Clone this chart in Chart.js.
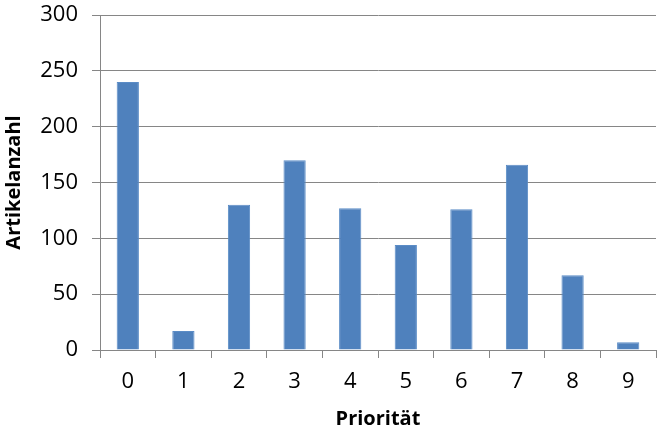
<!DOCTYPE html>
<html>
<head>
<meta charset="utf-8">
<script src="https://cdn.jsdelivr.net/npm/chart.js@4/dist/chart.umd.min.js"></script>
<style>
  html, body { margin: 0; padding: 0; background: #fff; }
  #wrap { width: 657px; height: 431px; }
</style>
</head>
<body>
<div id="wrap"><canvas id="myChart"></canvas></div>
<script>
const prioritaeten = ['0', '1', '2', '3', '4', '5', '6', '7', '8', '9'];
const artikelanzahl = [240, 17, 130, 170, 127, 94, 126, 166, 67, 7];
const yMax = 300;
const yStep = 50;

const font = 'Open Sans';
const ctx = document.getElementById('myChart');
const myChart = new Chart(ctx, {
  type: 'bar',
  data: {
    labels: prioritaeten,
    datasets: [{
      data: artikelanzahl,
      backgroundColor: '#4F81BD',
      borderColor: '#5B8CC6',
      borderWidth: 1,
      barPercentage: 0.4,
      categoryPercentage: 1
    }]
  },
  options: {
    responsive: true,
    maintainAspectRatio: false,
    animation: false,
    layout: { padding: { top: 15, right: 1, left: 0, bottom: 0 } },
    plugins: {
      legend: { display: false },
      tooltip: { enabled: false }
    },
    scales: {
      x: {
        grid: {
          drawOnChartArea: false,
          drawTicks: true,
          tickLength: 8,
          color: '#868686',
          offset: true
        },
        border: { color: '#868686' },
        ticks: {
          color: '#000',
          padding: 11,
          font: { family: font, size: 22 }
        },
        title: {
          display: true,
          text: 'Priorität',
          color: '#000',
          padding: { top: 4, bottom: 0 },
          font: { family: font, size: 20, weight: 'bold' }
        },
        afterFit: (scale) => {
          scale.height = 81;
          scale.paddingLeft = 0;
          scale.paddingRight = 0;
        }
      },
      y: {
        min: 0,
        max: yMax,
        grid: {
          color: '#868686',
          tickLength: 8
        },
        border: { color: '#868686' },
        ticks: {
          stepSize: yStep,
          color: '#000',
          padding: 14,
          font: { family: font, size: 22 }
        },
        title: {
          display: true,
          text: 'Artikelanzahl',
          color: '#000',
          padding: { top: 2, bottom: 4 },
          font: { family: font, size: 20, weight: 'bold' }
        },
        afterFit: (scale) => {
          scale.width = 100;
          scale.paddingTop = 0;
          scale.paddingBottom = 0;
        }
      }
    }
  }
});
</script>
</body>
</html>
